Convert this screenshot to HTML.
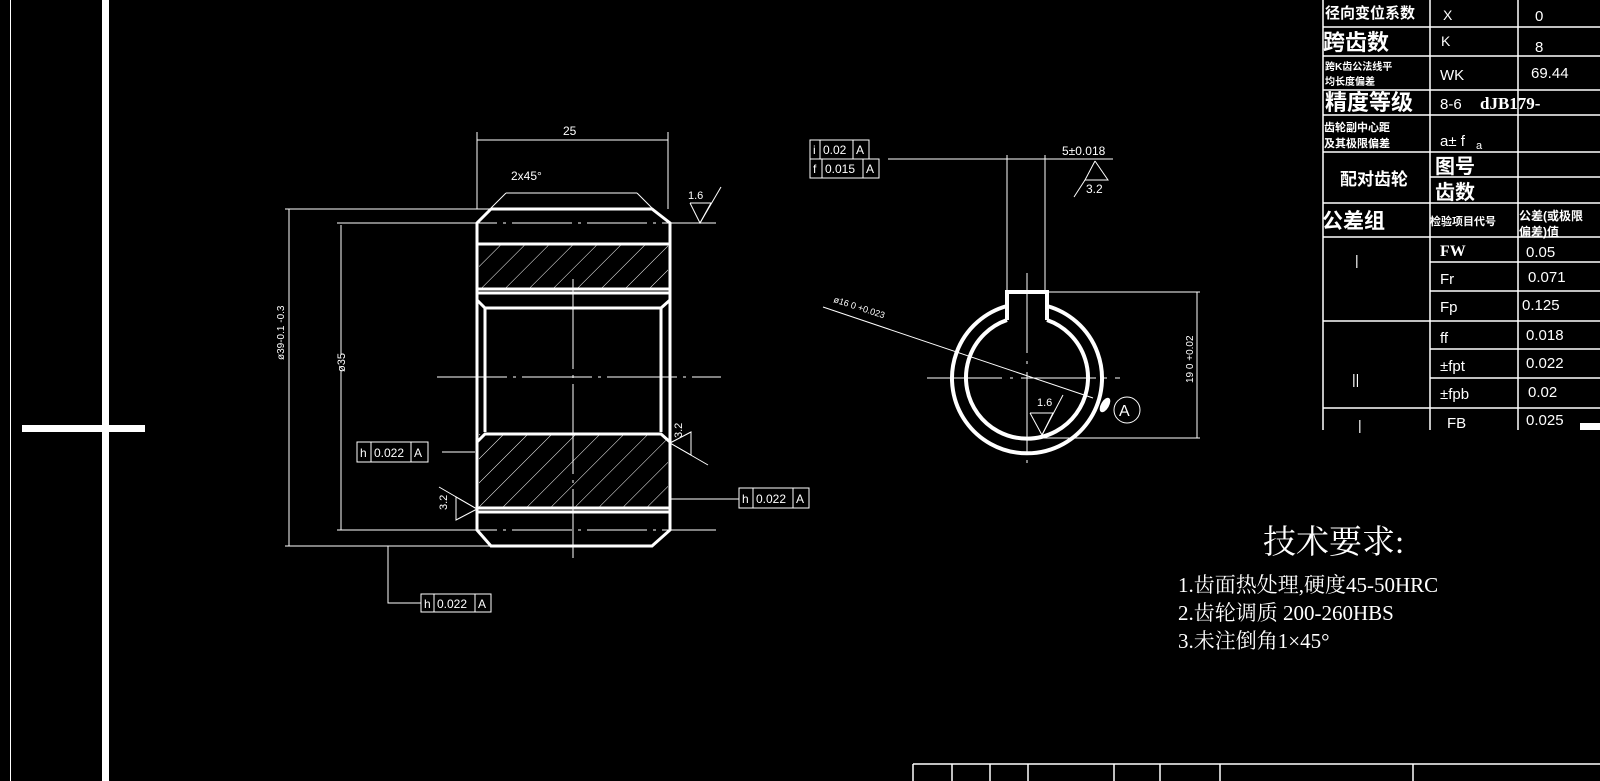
<!DOCTYPE html>
<html><head><meta charset="utf-8"><style>
html,body{margin:0;padding:0;background:#000;width:1600px;height:781px;overflow:hidden}
svg{display:block}
text{fill:#fff;font-family:"Liberation Sans","Noto Sans CJK SC",sans-serif}
.cj{font-family:"Liberation Sans","Noto Sans CJK SC",sans-serif;font-weight:bold}
.sf{font-family:"Liberation Serif","Noto Serif CJK SC",serif}
</style></head><body>
<svg width="1600" height="781" viewBox="0 0 1600 781" xmlns="http://www.w3.org/2000/svg">
<defs>
<pattern id="h" patternUnits="userSpaceOnUse" width="17" height="17" patternTransform="rotate(45)">
<line x1="0" y1="0" x2="0" y2="17" stroke="#fff" stroke-width="1"/>
</pattern>
</defs>
<rect width="1600" height="781" fill="#000"/>
<line x1="10.5" y1="0" x2="10.5" y2="781" stroke="#fff" stroke-width="1"/>
<rect x="102" y="0" width="7" height="781" fill="#fff"/>
<rect x="22" y="425" width="123" height="7" fill="#fff"/>

<g stroke="#fff" stroke-width="1.5" fill="none">
<line x1="913" y1="764" x2="1600" y2="764"/>
<line x1="913" y1="764" x2="913" y2="781"/><line x1="952" y1="764" x2="952" y2="781"/>
<line x1="990" y1="764" x2="990" y2="781"/><line x1="1028" y1="764" x2="1028" y2="781"/>
<line x1="1114" y1="764" x2="1114" y2="781"/><line x1="1160" y1="764" x2="1160" y2="781"/>
<line x1="1220" y1="764" x2="1220" y2="781"/><line x1="1413" y1="764" x2="1413" y2="781"/>
</g>

<g fill="none" stroke="#fff">
<rect x="479" y="244" width="189" height="45" fill="url(#h)" stroke="none"/>
<rect x="479" y="434" width="189" height="74" fill="url(#h)" stroke="none"/>
<g stroke-width="3">
<polyline points="491,209 652,209 670,223 670,530 652,546 491,546 477,530 477,223 491,209"/>
<line x1="477" y1="244" x2="670" y2="244"/>
<line x1="477" y1="289" x2="670" y2="289"/>
<polyline points="477,293 670,293"/>
<polyline points="477,300 485,308 661,308 670,300"/>
<line x1="485" y1="308" x2="485" y2="432"/>
<line x1="661" y1="308" x2="661" y2="432"/>
<polyline points="477,442 485,434 661,434 670,442"/>
<line x1="477" y1="508" x2="670" y2="508"/>
<line x1="477" y1="512" x2="670" y2="512"/>
</g>
<g stroke-width="1">
<line x1="437" y1="377" x2="721" y2="377" stroke-dasharray="70,6,3,6"/>
<line x1="573" y1="279" x2="573" y2="558" stroke-dasharray="90,6,3,6"/>
<line x1="437" y1="223" x2="716" y2="223" stroke-dasharray="60,6,3,6"/>
<line x1="437" y1="530" x2="716" y2="530" stroke-dasharray="60,6,3,6"/>
<line x1="477" y1="132" x2="477" y2="209"/><line x1="668" y1="132" x2="668" y2="209"/>
<line x1="477" y1="140" x2="668" y2="140"/>
<line x1="506" y1="193" x2="637" y2="193"/>
<line x1="506" y1="193" x2="489" y2="210"/>
<line x1="637" y1="193" x2="654" y2="210"/>
<line x1="285" y1="209" x2="491" y2="209"/>
<line x1="285" y1="546" x2="491" y2="546"/>
<line x1="289" y1="209" x2="289" y2="546"/>
<line x1="337" y1="223" x2="437" y2="223"/>
<line x1="337" y1="530" x2="437" y2="530"/>
<line x1="341" y1="225" x2="341" y2="355"/>
<line x1="341" y1="370" x2="341" y2="530"/>
<line x1="670" y1="223" x2="716" y2="223"/>
<polyline points="690,203 711,203 700,223 690,203"/>
<line x1="700" y1="223" x2="721" y2="187"/>
<rect x="357" y="442" width="71" height="20"/>
<line x1="371" y1="442" x2="371" y2="462"/><line x1="411" y1="442" x2="411" y2="462"/>
<line x1="442" y1="452" x2="475" y2="452"/>
<rect x="739" y="488" width="70" height="20"/>
<line x1="753" y1="488" x2="753" y2="508"/><line x1="793" y1="488" x2="793" y2="508"/>
<line x1="671" y1="499" x2="739" y2="499"/>
<polyline points="388,546 388,603 421,603"/>
<rect x="421" y="594" width="70" height="18"/>
<line x1="434" y1="594" x2="434" y2="612"/><line x1="475" y1="594" x2="475" y2="612"/>
<polyline points="477,509 456,497 456,520 477,509"/>
<line x1="439" y1="487" x2="477" y2="509"/>
<polyline points="670,443 691,432 691,455 670,443"/>
<line x1="670" y1="443" x2="708" y2="465"/>
</g>
</g>
<g font-size="12">
<text x="563" y="135">25</text>
<text x="511" y="180">2x45°</text>
<text x="688" y="199" font-size="11">1.6</text>
<text x="360" y="457">h</text><text x="374" y="457">0.022</text><text x="414" y="457">A</text>
<text x="742" y="503">h</text><text x="756" y="503">0.022</text><text x="796" y="503">A</text>
<text x="424" y="608">h</text><text x="437" y="608">0.022</text><text x="478" y="608">A</text>
<text transform="translate(284,360) rotate(-90)" font-size="10">ø39-0.1 -0.3</text>
<text transform="translate(345,372) rotate(-90)" font-size="11">ø35</text>
<text transform="translate(447,510) rotate(-90)" font-size="11">3.2</text>
<text transform="translate(682,438) rotate(-90)" font-size="11">3.2</text>
</g>

<g fill="none" stroke="#fff">
<g stroke-width="4">
<path d="M1047,306 A75,75 0 1 1 1007,306"/>
<path d="M1047,320 A61,61 0 1 1 1007,320"/>
<polyline points="1007,306 1007,292 1047,292 1047,306"/>
<line x1="1007" y1="306" x2="1007" y2="320"/>
<line x1="1047" y1="306" x2="1047" y2="320"/>
</g>
<g stroke-width="1">
<line x1="927" y1="378" x2="1120" y2="378" stroke-dasharray="75,8,3,8"/>
<line x1="1027" y1="273" x2="1027" y2="468" stroke-dasharray="80,8,3,8"/>
<line x1="1007" y1="155" x2="1007" y2="292"/>
<line x1="1045" y1="155" x2="1045" y2="292"/>
<line x1="888" y1="159" x2="1113" y2="159"/>
<polyline points="1095,161 1108,180 1085,180 1095,161"/>
<line x1="1085" y1="180" x2="1074" y2="197"/>
<rect x="810" y="140" width="59" height="19"/>
<line x1="820" y1="140" x2="820" y2="159"/><line x1="853" y1="140" x2="853" y2="159"/>
<rect x="810" y="159" width="69" height="19"/>
<line x1="822" y1="159" x2="822" y2="178"/><line x1="863" y1="159" x2="863" y2="178"/>
<line x1="823" y1="307" x2="1093" y2="398"/>
<circle cx="1127" cy="410" r="13"/>
<polyline points="1030,413 1053,413 1042,435 1030,413"/>
<line x1="1042" y1="435" x2="1063" y2="395"/>
<line x1="1048" y1="292" x2="1200" y2="292"/>
<line x1="1042" y1="438" x2="1200" y2="438"/>
<line x1="1197" y1="292" x2="1197" y2="438"/>
</g>
</g>
<ellipse cx="1105" cy="405" rx="4" ry="8" transform="rotate(30 1105 405)" fill="#fff"/>
<g font-size="12">
<text x="1062" y="155">5±0.018</text>
<text x="1086" y="193">3.2</text>
<text x="813" y="154">i</text><text x="823" y="154">0.02</text><text x="856" y="154">A</text>
<text x="813" y="173">f</text><text x="825" y="173">0.015</text><text x="866" y="173">A</text>
<text x="1119" y="416" font-size="16">A</text>
<text x="1037" y="406" font-size="11">1.6</text>
<text transform="translate(833,302) rotate(18)" font-size="9">ø16 0 +0.023</text>
<text transform="translate(1193,383) rotate(-90)" font-size="10">19 0 +0.02</text>
</g>

<g stroke="#fff" stroke-width="1.5" fill="none">
<line x1="1323" y1="0" x2="1323" y2="430"/>
<line x1="1430" y1="0" x2="1430" y2="430"/>
<line x1="1518" y1="0" x2="1518" y2="430"/>
<line x1="1323" y1="27" x2="1600" y2="27"/>
<line x1="1323" y1="56" x2="1600" y2="56"/>
<line x1="1323" y1="90" x2="1600" y2="90"/>
<line x1="1323" y1="115" x2="1600" y2="115"/>
<line x1="1323" y1="152" x2="1600" y2="152"/>
<line x1="1430" y1="177" x2="1600" y2="177"/>
<line x1="1323" y1="203" x2="1600" y2="203"/>
<line x1="1323" y1="237" x2="1600" y2="237"/>
<line x1="1430" y1="262" x2="1600" y2="262"/>
<line x1="1430" y1="291" x2="1600" y2="291"/>
<line x1="1323" y1="321" x2="1600" y2="321"/>
<line x1="1430" y1="349" x2="1600" y2="349"/>
<line x1="1430" y1="378" x2="1600" y2="378"/>
<line x1="1323" y1="408" x2="1600" y2="408"/>
</g>
<rect x="1580" y="423" width="20" height="7" fill="#fff"/>
<g>
<text class="cj" x="1325" y="18" font-size="15">径向变位系数</text>
<text x="1443" y="20" font-size="14">X</text><text x="1535" y="21" font-size="15">0</text>
<text class="cj" x="1323" y="50" font-size="22">跨齿数</text>
<text x="1441" y="46" font-size="14">K</text><text x="1535" y="52" font-size="15">8</text>
<text class="cj" x="1325" y="70" font-size="10">跨K齿公法线平</text>
<text class="cj" x="1325" y="85" font-size="10">均长度偏差</text>
<text x="1440" y="80" font-size="15">WK</text><text x="1531" y="78" font-size="15">69.44</text>
<text class="cj" x="1325" y="110" font-size="22">精度等级</text>
<text x="1440" y="109" font-size="15">8-6</text><text class="sf" x="1480" y="109" font-size="17" font-weight="bold">dJB179-</text>
<text class="cj" x="1324" y="131" font-size="11">齿轮副中心距</text>
<text class="cj" x="1324" y="147" font-size="11">及其极限偏差</text>
<text x="1440" y="146" font-size="15">a± f</text><text x="1476" y="149" font-size="11">a</text>
<text class="cj" x="1340" y="185" font-size="17">配对齿轮</text>
<text class="cj" x="1435" y="173" font-size="20">图号</text>
<text class="cj" x="1435" y="199" font-size="20">齿数</text>
<text class="cj" x="1322" y="228" font-size="21" font-weight="normal">公差组</text>
<text class="cj" x="1430" y="225" font-size="11">检验项目代号</text>
<text class="cj" x="1519" y="220" font-size="12">公差(或极限</text>
<text class="cj" x="1519" y="236" font-size="12">偏差)值</text>
<text x="1355" y="265" font-size="14">|</text>
<text x="1440" y="256" font-size="16" font-weight="bold" class="sf">FW</text>
<text x="1526" y="257" font-size="15">0.05</text>
<text x="1440" y="284" font-size="15">Fr</text><text x="1528" y="282" font-size="15">0.071</text>
<text x="1440" y="312" font-size="15">Fp</text><text x="1522" y="310" font-size="15">0.125</text>
<text x="1440" y="343" font-size="15">ff</text><text x="1526" y="340" font-size="15">0.018</text>
<text x="1440" y="371" font-size="15">±fpt</text><text x="1526" y="368" font-size="15">0.022</text>
<text x="1440" y="399" font-size="15">±fpb</text><text x="1528" y="397" font-size="15">0.02</text>
<text x="1352" y="384" font-size="14">||</text>
<text x="1447" y="428" font-size="15">FB</text><text x="1526" y="425" font-size="15">0.025</text>
<text x="1358" y="430" font-size="14">|</text>
</g>

<text class="sf" x="1263" y="553" font-size="33">技术要求:</text>
<text class="sf" x="1178" y="592" font-size="21">1.齿面热处理,硬度45-50HRC</text>
<text class="sf" x="1178" y="620" font-size="21">2.齿轮调质 200-260HBS</text>
<text class="sf" x="1178" y="648" font-size="21">3.未注倒角1×45°</text>
</svg>
</body></html>
